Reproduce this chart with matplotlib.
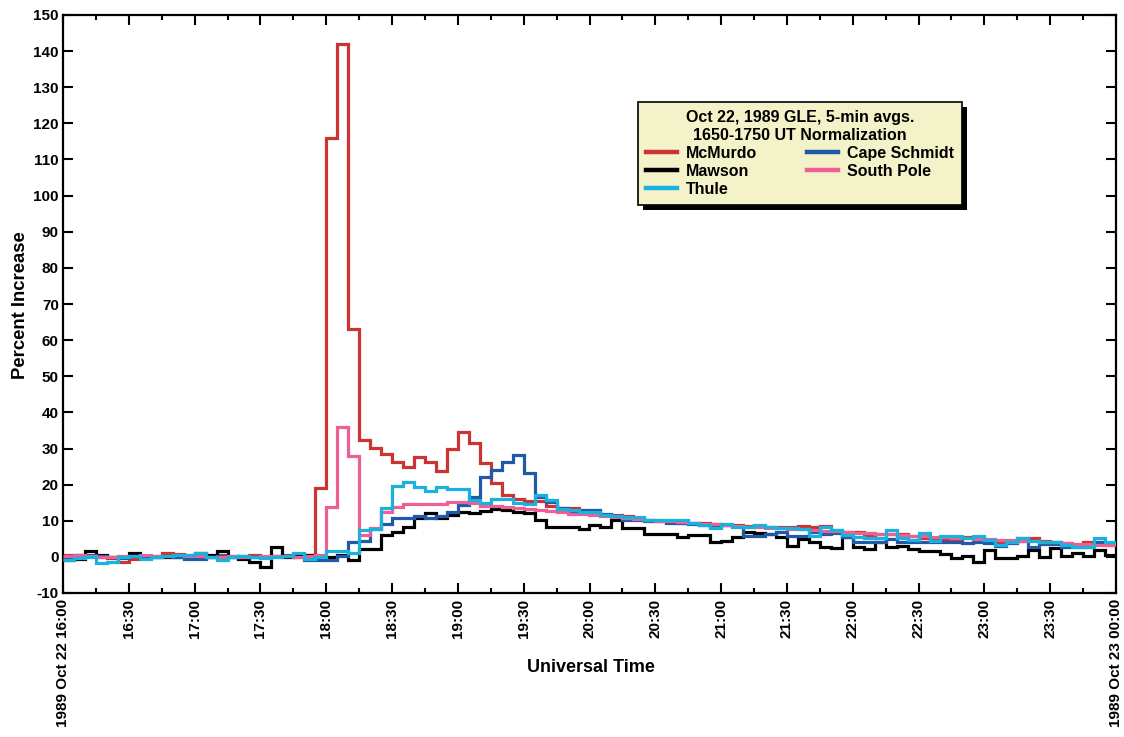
import matplotlib
matplotlib.use("Agg")
import matplotlib.pyplot as plt
import numpy as np
from matplotlib.patches import Rectangle
from matplotlib.ticker import MultipleLocator

plt.rcParams['font.family'] = ['Liberation Sans', 'DejaVu Sans']
plt.rcParams['font.weight'] = 'bold'
plt.rcParams['axes.unicode_minus'] = False

# 5-minute bin edges, in hours UT, 16:00 -> 24:00
bin_edges_hours = np.arange(16.0, 24.0 + 1e-9, 5.0 / 60.0)

mcmurdo = [0.5, 0.5, 0.3, 0.0, -0.3, -1.5, -0.5, 0.0, 0.3, 1.0, 0.8, 0.5,
           0.3, 0.0, 0.5, 0.0, 0.3, 0.5, 0.0, 0.3, 0.5, 0.3, 0.5, 19.0,
           116.0, 142.0, 63.0, 32.4, 30.1, 28.5, 26.4, 25.0, 27.6, 26.4, 23.9, 29.8,
           34.5, 31.6, 25.9, 20.4, 17.2, 16.0, 15.6, 15.5, 14.1, 13.5, 13.5, 12.5,
           12.3, 11.6, 11.5, 11.2, 10.5, 10.2, 10.0, 9.8, 9.5, 9.3, 9.3, 9.0,
           8.8, 8.8, 8.6, 8.5, 8.3, 8.3, 8.2, 8.6, 8.4, 8.6, 7.5, 7.0,
           7.0, 6.1, 6.4, 6.4, 6.4, 5.8, 5.2, 5.2, 4.7, 4.5, 5.4, 5.2,
           4.2, 3.8, 4.2, 5.2, 5.2, 4.5, 4.2, 3.8, 3.3, 4.2, 4.2, 3.3]

mawson = [-1.0, -0.5, 1.5, 0.6, 0.0, 0.0, 1.2, 0.0, 0.0, 0.0, 0.0, 0.2,
          1.0, 0.5, 1.7, 0.0, -0.6, -1.3, -2.9, 2.6, 0.0, 0.2, 0.5, 0.0,
          0.0, 0.6, -1.0, 2.1, 2.3, 6.1, 7.0, 8.4, 10.7, 12.1, 10.7, 11.6,
          12.5, 12.1, 12.8, 13.2, 13.0, 12.5, 12.1, 10.2, 8.4, 8.4, 8.4, 7.7,
          8.9, 8.4, 10.2, 7.9, 7.9, 6.4, 6.4, 6.4, 5.6, 6.0, 6.0, 4.2,
          4.5, 5.6, 7.0, 6.5, 6.4, 5.5, 2.9, 5.0, 4.2, 2.7, 2.4, 5.6,
          2.7, 2.1, 4.2, 2.7, 2.9, 2.1, 1.5, 1.5, 0.8, -0.4, 0.3, -1.3,
          1.8, -0.4, -0.4, 0.3, 1.8, 0.1, 2.4, 0.3, 1.2, 0.3, 1.8, 0.6]

thule = [-0.8, -0.3, 0.0, -1.8, -1.5, 0.0, 0.3, -0.6, 0.0, 0.2, 0.5, 0.5,
         1.0, 0.0, -0.8, 0.0, 0.2, 0.0, -0.3, 0.0, 0.3, 1.0, -0.5, 0.0,
         1.5, 1.5, 1.0, 7.5, 7.7, 13.5, 19.5, 20.8, 19.3, 18.1, 19.3, 18.9,
         18.9, 15.8, 15.0, 16.0, 16.0, 15.0, 14.7, 17.2, 15.8, 13.2, 13.0, 12.5,
         12.3, 11.6, 11.4, 11.0, 11.0, 10.2, 10.1, 10.2, 10.1, 9.5, 8.9, 7.9,
         9.1, 8.4, 8.2, 8.9, 8.2, 7.9, 7.9, 7.6, 5.8, 8.4, 7.5, 6.1,
         5.6, 5.2, 5.2, 7.5, 5.2, 4.7, 6.7, 4.5, 5.8, 5.8, 5.2, 5.8,
         4.7, 3.3, 4.2, 5.2, 4.5, 4.2, 4.0, 3.3, 2.7, 2.7, 5.2, 4.0]

cape_schmidt = [-0.5, 0.5, 0.5, 0.3, 0.0, -0.3, 0.2, 0.0, 0.0, 0.3, 0.0, -0.5,
                -0.5, 0.0, 0.3, 0.2, 0.0, 0.0, 0.0, 0.2, 0.3, 0.0, -0.8, -0.8,
                -1.0, 0.3, 4.0, 4.5, 7.7, 9.1, 10.7, 10.7, 11.3, 10.7, 11.3, 12.5,
                14.4, 16.7, 22.2, 24.0, 26.4, 28.2, 23.3, 16.7, 15.3, 13.5, 12.5, 13.0,
                13.0, 12.0, 11.3, 10.2, 10.2, 9.8, 9.8, 9.5, 9.3, 9.0, 8.8, 8.3,
                8.8, 8.6, 5.8, 5.8, 6.4, 7.0, 5.8, 5.8, 7.0, 6.2, 6.5, 5.6,
                4.0, 4.2, 4.2, 4.9, 4.2, 4.2, 4.0, 4.2, 4.2, 4.2, 3.8, 4.2,
                3.8, 2.9, 3.8, 4.5, 2.7, 3.5, 3.5, 2.7, 2.7, 2.7, 4.0, 3.8]

south_pole = [0.3, 0.5, 0.3, 0.0, 0.0, 0.3, 0.3, 0.5, 0.3, 0.3, 0.5, 0.3,
              0.3, 0.0, 0.0, 0.3, 0.0, 0.0, 0.3, 0.3, 0.3, 0.0, 0.3, 0.5,
              13.7, 36.0, 27.9, 6.1, 7.9, 12.5, 13.7, 14.7, 14.7, 14.6, 14.7, 15.3,
              15.3, 15.0, 14.2, 14.0, 13.7, 13.5, 13.2, 12.9, 12.6, 12.3, 12.0, 11.8,
              11.5, 11.2, 11.0, 10.7, 10.5, 10.2, 10.0, 9.8, 9.6, 9.4, 9.2, 9.0,
              8.8, 8.6, 8.4, 8.3, 8.1, 7.9, 7.8, 7.6, 7.4, 7.3, 7.1, 6.9,
              6.7, 6.6, 6.4, 6.2, 6.1, 5.9, 5.8, 5.6, 5.5, 5.3, 5.2, 5.0,
              4.9, 4.7, 4.6, 4.4, 4.3, 4.1, 4.0, 3.8, 3.7, 3.5, 3.4, 3.2]

x_tick_hours = [16.0, 16.5, 17.0, 17.5, 18.0, 18.5, 19.0, 19.5, 20.0,
                20.5, 21.0, 21.5, 22.0, 22.5, 23.0, 23.5, 24.0]
x_tick_labels = ['1989 Oct 22 16:00', '16:30', '17:00', '17:30', '18:00',
                 '18:30', '19:00', '19:30', '20:00', '20:30', '21:00',
                 '21:30', '22:00', '22:30', '23:00', '23:30',
                 '1989 Oct 23 00:00']

stations = [
    ('McMurdo', mcmurdo, '#cc3333'),
    ('Mawson', mawson, '#000000'),
    ('Thule', thule, '#19b2dd'),
    ('Cape Schmidt', cape_schmidt, '#1f5aa8'),
    ('South Pole', south_pole, '#ee5f96'),
]
draw_order = ['McMurdo', 'Mawson', 'Cape Schmidt', 'South Pole', 'Thule']

fig = plt.figure(figsize=(11.24, 7.37), dpi=100)
ax = fig.add_axes([63 / 1124, 1 - 593 / 737, (1116 - 63) / 1124, (593 - 15) / 737])

handles = {}
for z, name in enumerate(draw_order):
    label, vals, color = next(s for s in stations if s[0] == name)
    art = ax.stairs(vals, bin_edges_hours, baseline=None, color=color,
                    linewidth=2.3, zorder=2 + z, label=label)
    handles[label] = art

ax.set_xlim(16, 24)
ax.set_ylim(-10, 150)
ax.yaxis.set_major_locator(MultipleLocator(10))
ax.set_xticks(x_tick_hours)
ax.set_xticklabels(x_tick_labels, rotation=90, fontsize=11, fontweight='bold')
ax.xaxis.set_minor_locator(MultipleLocator(0.25))
for lbl in ax.get_yticklabels():
    lbl.set_fontsize(11)
    lbl.set_fontweight('bold')
ax.tick_params(axis='both', which='both', direction='in', top=True, right=True,
               width=1.5, colors='black')
ax.tick_params(axis='both', which='major', length=7)
ax.tick_params(axis='both', which='minor', length=3.5)
ax.tick_params(axis='x', which='major', pad=4)
ax.tick_params(axis='y', which='major', pad=3)
for sp in ax.spines.values():
    sp.set_linewidth(1.6)

fig.text(591 / 1124, 1 - 668 / 737, 'Universal Time', ha='center', va='center',
         fontsize=13, fontweight='bold')
fig.text(21 / 1124, 1 - 305 / 737, 'Percent Increase', ha='center', va='center',
         rotation=90, fontsize=13.3, fontweight='bold')

legend_order = ['McMurdo', 'Mawson', 'Thule', 'Cape Schmidt', 'South Pole']
leg = ax.legend([handles[n] for n in legend_order], legend_order,
                ncol=2, loc='upper left',
                bbox_to_anchor=(638 / 1124, 1 - 102 / 737),
                bbox_transform=fig.transFigure,
                title='Oct 22, 1989 GLE, 5-min avgs.\n1650-1750 UT Normalization',
                title_fontproperties={'weight': 'bold', 'size': 11.5},
                prop={'weight': 'bold', 'size': 11.5},
                frameon=True, fancybox=False, shadow=False,
                handlelength=1.95, handletextpad=0.55, columnspacing=3.1,
                labelspacing=0.18, borderpad=0.5, borderaxespad=0.0)
leg.get_title().set_multialignment('center')
leg.get_title().set_linespacing(1.25)
leg.get_frame().set_facecolor('#f4f2c8')
leg.get_frame().set_edgecolor('black')
leg.get_frame().set_linewidth(1.2)
leg.get_frame().set_alpha(1.0)
for h in leg.legend_handles:
    h.set_linewidth(3.2)
leg.set_zorder(20)

# Solid drop shadow behind the legend box
fig.canvas.draw()
bb = leg.get_window_extent()
shadow = Rectangle((bb.x0 + 5, bb.y0 - 5), bb.width, bb.height,
                   transform=None, facecolor='black', edgecolor='none', zorder=19)
fig.add_artist(shadow)
leg.remove()
fig.add_artist(leg)

fig.savefig('out.png', dpi=100)
